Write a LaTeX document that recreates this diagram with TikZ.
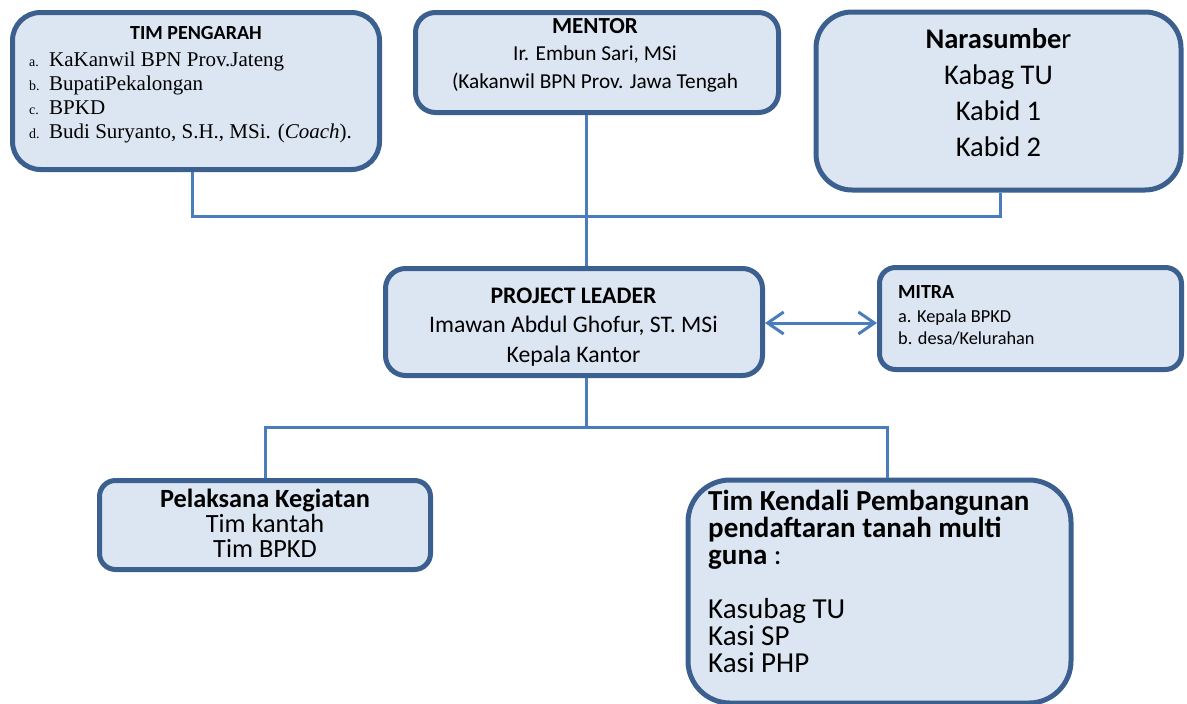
\documentclass[tikz,border=0pt]{standalone}
\usepackage{fontspec}
\setmainfont{Carlito}
\newfontfamily\serifitems{Liberation Serif}
\usetikzlibrary{arrows.meta}

\definecolor{boxborder}{HTML}{3B5F8E}
\definecolor{boxfill}{HTML}{DCE6F2}
\definecolor{linkblue}{HTML}{4A7EBB}

\newcommand{\fs}[2]{\fontsize{#1}{#2}\selectfont}
\newcommand{\itemmark}[1]{\makebox[20pt][l]{\fs{14}{14}#1}}

\begin{document}
\begin{tikzpicture}
    [
        x = 1pt, y = -1pt,
        box/.style = {draw = boxborder, fill = boxfill, line width = 5pt,
                rounded corners = #1, inner sep = 0pt},
        boxtext/.style = {inner sep = 0pt, anchor = base},
        link/.style = {draw = linkblue, line width = 3pt},
        barb/.style = {{Straight Barb[length=16pt,width=22pt]}-{Straight Barb[length=16pt,width=22pt]}},
    ]

    \useasboundingbox (0,0) rectangle (1187,704);
    \clip (0,0) rectangle (1187,704);

    \foreach \name/\pos/\bw/\bh/\rad in {
            pengarah/{196,91}/367/157/28pt,
            mentor/{597,62.5}/363/100/20pt,
            narasumber/{998.5,101}/365/178/36pt,
            leader/{574,322}/377/107/20pt,
            mitra/{1030.5,318.5}/302/102/16pt,
            pelaksana/{265,525}/331/89/16pt,
            kendali/{879.5,591.5}/383/223/42pt}{
            \node[box = \rad, minimum width = \bw, minimum height = \bh] (\name) at (\pos) {};
        }

    \node[boxtext] (pengarahtitle) at (196,39) {\fs{20}{24}\bfseries TIM PENGARAH};
    \node[boxtext, anchor = base west, align = left, font = \serifitems\fs{21}{24}] (pengarahlist) at (29,138)
    {\itemmark{a.}KaKanwil BPN Prov.Jateng\\
        \itemmark{b.}BupatiPekalongan\\
        \itemmark{c.}BPKD\\
        \itemmark{d.}Budi Suryanto, S.H., MSi. (\textit{Coach}).};

    \node[boxtext, align = center, font = \fs{21.3}{27.5}] (mentortext) at (595,88)
    {{\bfseries\fs{23}{27.5}MENTOR}\\Ir. Embun Sari, MSi\\(Kakanwil BPN Prov. Jawa Tengah};

    \node[boxtext, align = center, font = \fs{28.5}{36}] (narasumbertext) at (998.5,156)
    {{\bfseries Narasumbe}r\\Kabag TU\\Kabid 1\\Kabid 2};

    \node[boxtext, align = center, font = \fs{23.7}{29.5}] (leadertext) at (573.5,362)
    {\textbf{PROJECT LEADER}\\Imawan Abdul Ghofur, ST. MSi\\Kepala Kantor};

    \node[boxtext, anchor = base west, align = left, font = \fs{18.3}{22}] (mitratext) at (898,344)
    {{\bfseries\fs{20}{22}MITRA}\\[2pt]a. Kepala BPKD\\b. desa/Kelurahan};

    \node[boxtext, align = center, font = \fs{26.3}{25}] (pelaksanatext) at (265,557)
    {\textbf{Pelaksana Kegiatan}\\Tim kantah\\Tim BPKD};

    \node[boxtext, anchor = base west, align = left, font = \fs{29}{27}] (kendalitext) at (708,672)
    {\textbf{Tim Kendali Pembangunan}\\\textbf{pendaftaran tanah multi}\\\textbf{guna} :\\[27pt]Kasubag TU\\Kasi SP\\Kasi PHP};

    \coordinate (topleft) at (192,216);
    \coordinate (topright) at (1000,216);
    \coordinate (spine) at (586,216);
    \coordinate (lowleft) at (265,427);
    \coordinate (lowright) at (887,427);
    \coordinate (arrowrow) at (0,323);

    \draw[link] (topleft |- pengarah.south) -- (topleft) -- (topright) -- (topright |- narasumber.south);
    \draw[link] (spine |- mentor.south) -- (spine |- leader.north);
    \draw[link] (spine |- leader.south) -- (spine |- lowleft);
    \draw[link] (lowleft |- pelaksana.north) -- (lowleft) -- (lowright) -- (lowright |- kendali.north);
    \draw[link, barb] (leader.east |- arrowrow) -- (mitra.west |- arrowrow);

\end{tikzpicture}
\end{document}
